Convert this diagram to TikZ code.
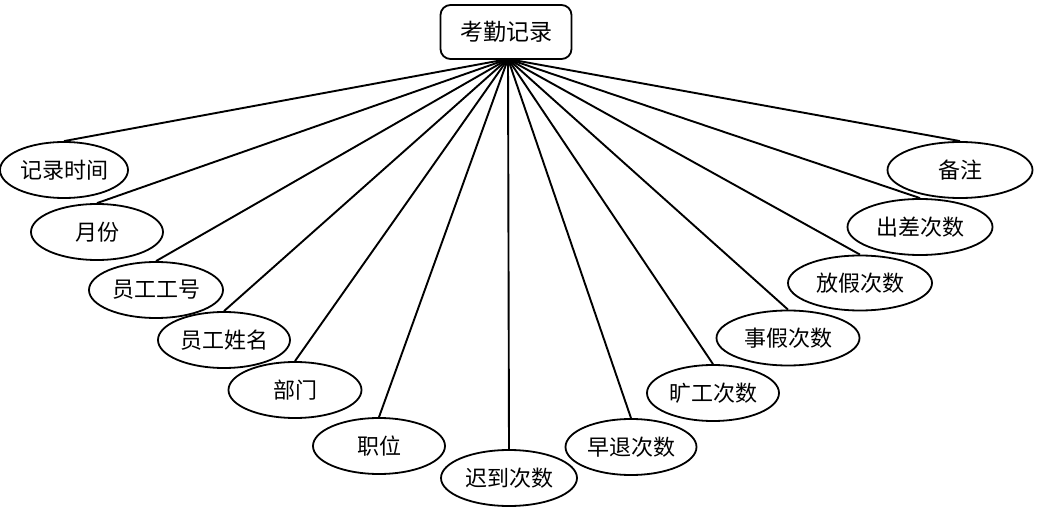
\documentclass[tikz,border=0pt]{standalone}
\usepackage{fontspec}
\setmainfont{Noto Sans CJK SC}
\usetikzlibrary{shapes.geometric}
\tikzset{
  attr/.style={draw, ellipse, line width=1.8pt, inner sep=0pt, font=\fontsize{22}{25}\selectfont, fill=white},
  ent/.style={draw, rounded corners=10pt, line width=1.8pt, inner sep=0pt, minimum width=131pt, minimum height=54pt, font=\fontsize{23}{26}\selectfont, fill=white},
  link/.style={line width=1.9pt}
}
\begin{document}
\begin{tikzpicture}[x=1pt,y=-1pt]
\useasboundingbox (0,0) rectangle (1047,521);
\node[ent] (top) at (506,32) {考勤记录};
\node[attr, minimum width=128pt, minimum height=56pt] (a1) at (64,170) {记录时间};
\node[attr, minimum width=132pt, minimum height=56pt] (a2) at (97,232) {月份};
\node[attr, minimum width=134pt, minimum height=56pt] (a3) at (156,290) {员工工号};
\node[attr, minimum width=132pt, minimum height=56pt] (a4) at (224,340) {员工姓名};
\node[attr, minimum width=133pt, minimum height=56pt] (a5) at (295,390) {部门};
\node[attr, minimum width=132pt, minimum height=56pt] (a6) at (379,446) {职位};
\node[attr, minimum width=136pt, minimum height=56pt] (a7) at (509,478) {迟到次数};
\node[attr, minimum width=131pt, minimum height=56pt] (a8) at (631,447) {早退次数};
\node[attr, minimum width=132pt, minimum height=56pt] (a9) at (713,393) {旷工次数};
\node[attr, minimum width=143pt, minimum height=55pt] (a10) at (788,338) {事假次数};
\node[attr, minimum width=144pt, minimum height=55pt] (a11) at (860,283) {放假次数};
\node[attr, minimum width=145pt, minimum height=56pt] (a12) at (920,227) {出差次数};
\node[attr, minimum width=145pt, minimum height=56pt] (a13) at (960,170) {备注};
\coordinate (apex) at (508,59);
\foreach \n in {a1,a2,a3,a4,a5,a6,a7,a8,a9,a10,a11,a12,a13}
  \draw[link] (apex) -- (\n.north);
\end{tikzpicture}
\end{document}
